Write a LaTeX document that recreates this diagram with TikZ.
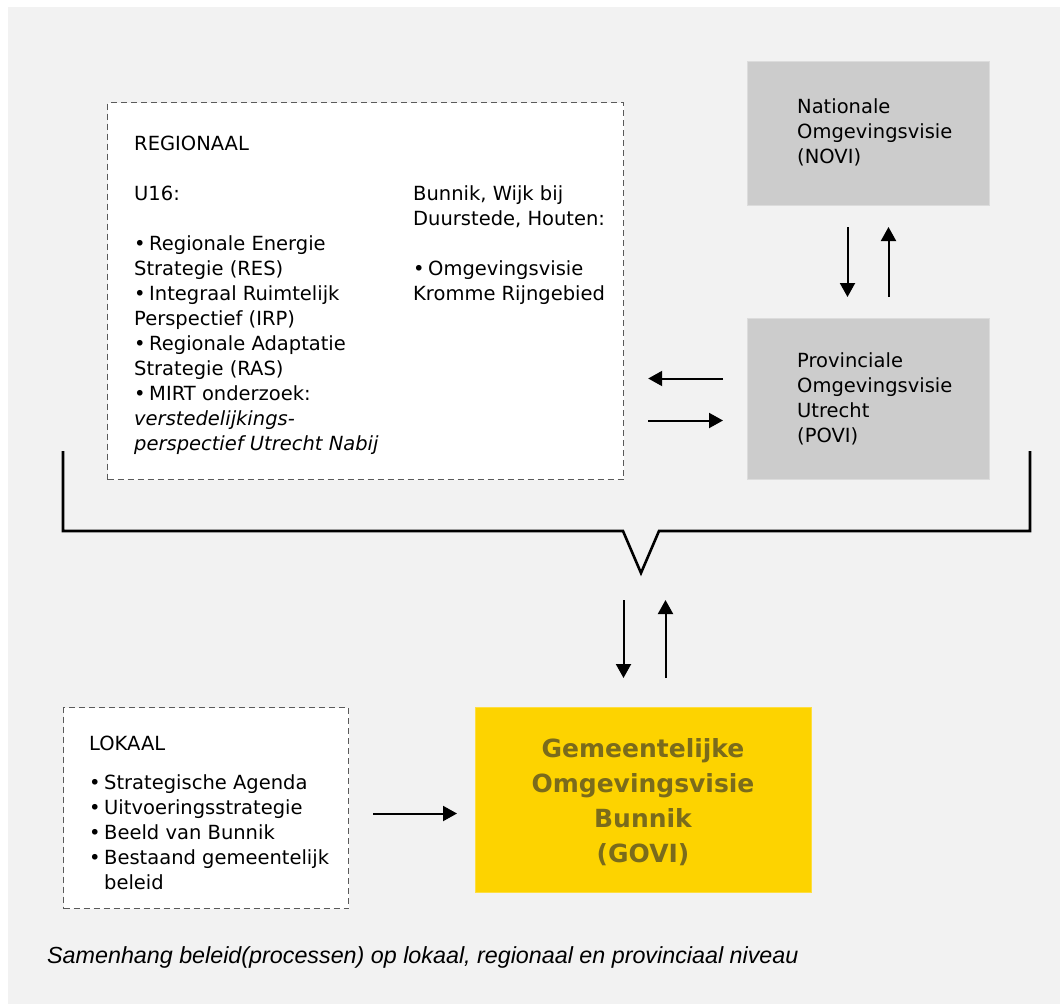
\documentclass[tikz,border=0pt]{standalone}
\usepackage{fontspec}
\setmainfont{DejaVu Sans}
\newfontfamily\capfont{Liberation Sans}
\usetikzlibrary{arrows.meta}
\definecolor{bg}{HTML}{F2F2F2}
\definecolor{boxgray}{HTML}{CCCCCC}
\definecolor{boxedge}{HTML}{DCDCDC}
\definecolor{yel}{HTML}{FDD300}
\definecolor{olivetxt}{HTML}{7A6B1C}
\definecolor{dashc}{HTML}{5A5A5A}
\newcommand\bul{\makebox[15pt][l]{•}}
\tikzset{
  txt/.style={font=\fontsize{19.5}{25}\selectfont, align=left, inner sep=0pt, anchor=base west, text=black},
  dbox/.style={draw=dashc, dash pattern=on 6pt off 4pt, line width=1.2pt, fill=white, inner sep=0pt, anchor=north west},
  gbox/.style={draw=boxedge, line width=1pt, fill=boxgray, inner sep=0pt, anchor=north west},
  ybox/.style={draw=yel!75!white, line width=1pt, fill=yel, inner sep=0pt, anchor=north west},
  arr/.style={line width=2pt, -{Triangle[length=14pt,width=15pt]}},
  brk/.style={line width=2.6pt, line join=miter}
}
\begin{document}
\begin{tikzpicture}[x=1pt,y=-1pt]
\useasboundingbox (0,0) rectangle (1060,1004);
\fill[white] (0,0) rectangle (1060,1004);
\fill[bg] (8,7) rectangle (1060,1004);

% boxes
\node[dbox, minimum width=516pt, minimum height=377pt] (reg) at (107,102) {};
\node[gbox, minimum width=242pt, minimum height=144pt] (novi) at (747,61) {};
\node[gbox, minimum width=242pt, minimum height=161pt] (povi) at (747,318) {};
\node[ybox, minimum width=336pt, minimum height=185pt] (govi) at (475,707) {};
\node[dbox, minimum width=285pt, minimum height=201pt] (lok) at (63,707) {};

% texts (anchor = baseline of the last line)
\node[txt] (regtxt) at (134,450) {REGIONAAL\\[25pt]U16:\\[25pt]\bul Regionale Energie\\Strategie (RES)\\\bul Integraal Ruimtelijk\\Perspectief (IRP)\\\bul Regionale Adaptatie\\Strategie (RAS)\\\bul MIRT onderzoek:\\\textit{verstedelijkings-}\\\textit{perspectief Utrecht Nabij}};
\node[txt] (regtxt2) at (413,300) {Bunnik, Wijk bij\\Duurstede, Houten:\\[25pt]\bul Omgevingsvisie\\Kromme Rijngebied};
\node[txt] (novitxt) at (797,163) {Nationale\\Omgevingsvisie\\(NOVI)};
\node[txt] (povitxt) at (797,442) {Provinciale\\Omgevingsvisie\\Utrecht\\(POVI)};
\node[txt] (loktxt) at (89,889) {LOKAAL\\[14pt]\bul Strategische Agenda\\\bul Uitvoeringsstrategie\\\bul Beeld van Bunnik\\\bul Bestaand gemeentelijk\\\hspace*{15pt}beleid};
\node[font=\fontsize{25}{35}\selectfont\bfseries, text=olivetxt, align=center, inner sep=0pt, anchor=base] (govitxt) at (643,862) {Gemeentelijke\\Omgevingsvisie\\Bunnik\\(GOVI)};
\node[font=\capfont\itshape\fontsize{23.3}{28}\selectfont, inner sep=0pt, anchor=base west] (cap) at (47,963) {Samenhang beleid(processen) op lokaal, regionaal en provinciaal niveau};

% bracket
\coordinate (vtip) at (641,573);
\draw[brk] (63,451) -- (63,531) -- (623,531) -- (vtip) -- (659,531) -- (1030,531) -- (1030,451);

% arrows
\draw[arr, shorten <=21pt, shorten >=21pt] ([xshift=-21pt]novi.south) -- ([xshift=-21pt]povi.north);
\draw[arr, shorten <=21pt, shorten >=21pt] ([xshift=20pt]povi.north) -- ([xshift=20pt]novi.south);
\draw[arr, shorten <=24pt, shorten >=24pt] ([yshift=20.5pt]povi.west) -- ([yshift=20.5pt]povi.west -| reg.east);
\draw[arr, shorten <=24pt, shorten >=24pt] ([yshift=-21.5pt]povi.west -| reg.east) -- ([yshift=-21.5pt]povi.west);
\draw[arr, shorten <=27pt, shorten >=29pt] ([xshift=-20pt]govi.north |- vtip) -- ([xshift=-20pt]govi.north);
\draw[arr, shorten <=29pt, shorten >=27pt] ([xshift=22pt]govi.north) -- ([xshift=22pt]govi.north |- vtip);
\draw[arr, shorten <=24pt, shorten >=18pt] ([yshift=-13.5pt]govi.west -| lok.east) -- ([yshift=-13.5pt]govi.west);
\end{tikzpicture}
\end{document}
